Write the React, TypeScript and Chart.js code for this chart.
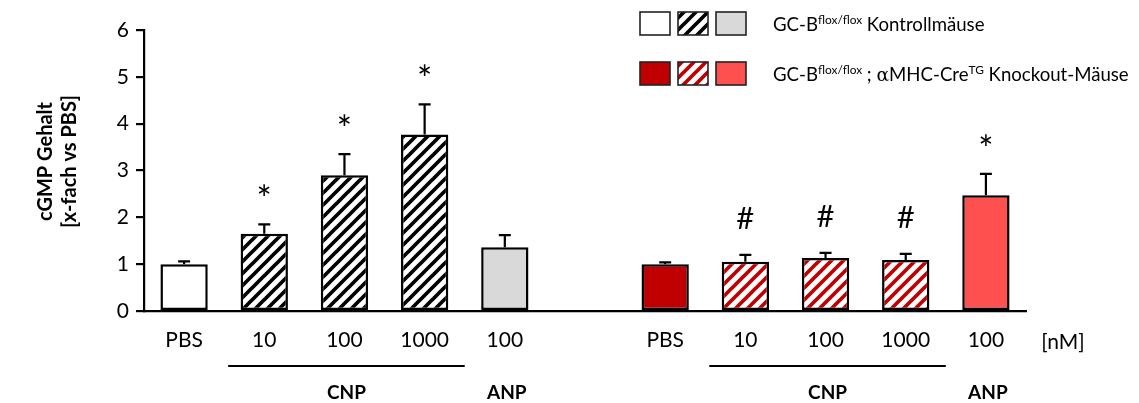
import React, { useEffect, useRef } from 'react';
import { Chart, registerables } from 'chart.js';

Chart.register(...registerables);

// ---------- data ----------
const categories = ['PBS', '10', '100', '1000', '100', '', 'PBS', '10', '100', '1000', '100'];
const controlMeans = [1.0, 1.65, 2.9, 3.77, 1.36];
const controlSem = [0.06, 0.2, 0.45, 0.64, 0.26];
const knockoutMeans = [1.0, 1.05, 1.13, 1.09, 2.47];
const knockoutSem = [0.04, 0.15, 0.11, 0.13, 0.46];
const controlMarks = ['', '*', '*', '*', ''];
const knockoutMarks = ['', '#', '#', '#', '*'];
const controlFills = ['white', 'hatchBlack', 'hatchBlack', 'hatchBlack', 'grey'];
const knockoutFills = ['darkRed', 'hatchRed', 'hatchRed', 'hatchRed', 'lightRed'];
const groupLabels = ['CNP', 'ANP', 'CNP', 'ANP'];
const groupLabelIndex = [2, 4, 8, 10];
const groupLineStart = [1, 7];
const groupLineEnd = [3, 9];
const unitLabel = '[nM]';
const yTitle = ['cGMP Gehalt', '[x-fach vs PBS]'];
const yMin = 0;
const yMax = 6;
const legendRow1: [string, string][] = [['GC-B', ''], ['flox/flox', 'sup'], [' Kontrollmäuse', '']];
const legendRow2: [string, string][] = [
  ['GC-B', ''], ['flox/flox', 'sup'], [' ; ', ''], ['α', 'greek'], ['MHC-Cre', ''], ['TG', 'sup'], [' Knockout-Mäuse', ''],
];
const legendFills = [controlFills[0], controlFills[1], controlFills[4], knockoutFills[0], knockoutFills[1], knockoutFills[4]];

const FONT = 'Lato, "Open Sans", sans-serif';

function makeHatch(color: string): CanvasPattern | string {
  const s = 12;
  const c = document.createElement('canvas');
  c.width = s;
  c.height = s;
  const g = c.getContext('2d');
  if (!g) return color;
  g.fillStyle = '#ffffff';
  g.fillRect(0, 0, s, s);
  g.strokeStyle = color;
  g.lineWidth = 3.7;
  g.beginPath();
  for (let k = -1; k <= 1; k++) {
    g.moveTo(k * s - 3, s + 3);
    g.lineTo(k * s + s + 3, -3);
  }
  g.stroke();
  const p = g.createPattern(c, 'repeat');
  return p || color;
}

export default function App() {
  const ref = useRef<HTMLCanvasElement>(null);

  useEffect(() => {
    const canvas = ref.current;
    if (!canvas) return;

    const fillMap: Record<string, any> = {
      white: '#ffffff',
      grey: '#d9d9d9',
      darkRed: '#c00000',
      lightRed: '#ff5050',
      hatchBlack: makeHatch('#000000'),
      hatchRed: makeHatch('#c00000'),
    };

    const means: (number | null)[] = [...controlMeans, null, ...knockoutMeans];
    const sems: (number | null)[] = [...controlSem, null, ...knockoutSem];
    const marks = [...controlMarks, '', ...knockoutMarks];
    const fills = [...controlFills, 'white', ...knockoutFills].map((k) => fillMap[k]);

    const setRowFont = (ctx: CanvasRenderingContext2D, kind: string, size: number) => {
      if (kind === 'sup') ctx.font = `${(size * 0.64).toFixed(2)}px ${FONT}`;
      else if (kind === 'greek') ctx.font = `${size.toFixed(2)}px "DejaVu Serif", serif`;
      else ctx.font = `${size.toFixed(2)}px ${FONT}`;
    };
    const rowWidth = (ctx: CanvasRenderingContext2D, row: [string, string][], size: number) => {
      let w = 0;
      for (const [t, kind] of row) {
        setRowFont(ctx, kind, size);
        w += ctx.measureText(t).width;
      }
      return w;
    };

    const overlay = {
      id: 'overlay',
      afterDatasetsDraw(chart: any) {
        const ctx: CanvasRenderingContext2D = chart.ctx;
        const y = chart.scales.y;
        const meta = chart.getDatasetMeta(0);
        ctx.save();
        meta.data.forEach((bar: any, i: number) => {
          const m = means[i];
          const s = sems[i];
          if (m == null || s == null) return;
          const top = y.getPixelForValue(m + s);
          const base = y.getPixelForValue(m);
          const cx = bar.x;
          ctx.strokeStyle = '#000';
          ctx.lineWidth = 2.2;
          ctx.beginPath();
          ctx.moveTo(cx, base);
          ctx.lineTo(cx, top);
          ctx.moveTo(cx - 6, top);
          ctx.lineTo(cx + 6, top);
          ctx.stroke();
          const mk = marks[i];
          if (mk) {
            const star = mk === '*';
            ctx.font = star ? `36px ${FONT}` : `31px ${FONT}`;
            ctx.fillStyle = '#000';
            ctx.textAlign = 'center';
            ctx.textBaseline = 'alphabetic';
            const mt = ctx.measureText(mk);
            const target = top - (star ? 34 : 37);
            const by = target + (mt.actualBoundingBoxAscent - mt.actualBoundingBoxDescent) / 2;
            ctx.fillText(mk, cx, by);
          }
        });
        ctx.restore();
      },
      afterDraw(chart: any) {
        const ctx: CanvasRenderingContext2D = chart.ctx;
        const x = chart.scales.x;
        const area = chart.chartArea;
        const slot = x.getPixelForValue(1) - x.getPixelForValue(0);
        ctx.save();
        // unit label
        ctx.fillStyle = '#000';
        ctx.font = `21px ${FONT}`;
        ctx.textAlign = 'center';
        ctx.textBaseline = 'middle';
        ctx.fillText(unitLabel, area.right + 37, area.bottom + 31);
        // group lines
        ctx.strokeStyle = '#000';
        ctx.lineWidth = 2.2;
        for (let g = 0; g < groupLineStart.length; g++) {
          const x0 = x.getPixelForValue(groupLineStart[g]) - 0.45 * slot;
          const x1 = x.getPixelForValue(groupLineEnd[g]) + 0.5 * slot;
          ctx.beginPath();
          ctx.moveTo(x0, area.bottom + 55);
          ctx.lineTo(x1, area.bottom + 55);
          ctx.stroke();
        }
        // group labels
        ctx.font = `bold 19px ${FONT}`;
        groupLabels.forEach((t, i) => {
          ctx.fillText(t, x.getPixelForValue(groupLabelIndex[i]) + 2, area.bottom + 82);
        });
        // y title
        ctx.save();
        ctx.translate(58, (area.top + area.bottom) / 2 - 9);
        ctx.rotate(-Math.PI / 2);
        ctx.font = `bold 20px ${FONT}`;
        ctx.fillText(yTitle[0], 0, -12);
        ctx.fillText(yTitle[1], 0, 12);
        ctx.restore();
        // legend
        const swX = [640, 678, 716];
        const rowTop = [12, 62];
        const rows = [legendRow1, legendRow2];
        const size = 18 * (356 / rowWidth(ctx, legendRow2, 18));
        for (let r = 0; r < 2; r++) {
          for (let k = 0; k < 3; k++) {
            ctx.fillStyle = fillMap[legendFills[r * 3 + k]];
            ctx.fillRect(swX[k], rowTop[r], 30, 23);
            ctx.strokeStyle = '#222';
            ctx.lineWidth = 1.6;
            ctx.strokeRect(swX[k], rowTop[r], 30, 23);
          }
          let tx = 773;
          const base = rowTop[r] + 19;
          ctx.fillStyle = '#000';
          ctx.textAlign = 'left';
          ctx.textBaseline = 'alphabetic';
          for (const [t, kind] of rows[r]) {
            setRowFont(ctx, kind, size);
            ctx.fillText(t, tx, kind === 'sup' ? base - size * 0.4 : base);
            tx += ctx.measureText(t).width;
          }
        }
        ctx.restore();
      },
    };

    const chart = new Chart(canvas, {
      type: 'bar',
      data: {
        labels: categories,
        datasets: [
          {
            data: means,
            backgroundColor: fills,
            borderColor: '#000',
            borderWidth: 2.5,
            borderSkipped: false,
            barPercentage: 0.59,
            categoryPercentage: 1,
          },
        ],
      },
      options: {
        responsive: false,
        animation: false,
        layout: { padding: { top: 30, right: 113, left: 0, bottom: 0 } },
        plugins: { legend: { display: false }, tooltip: { enabled: false } },
        scales: {
          x: {
            grid: { display: true, drawOnChartArea: false, drawTicks: false },
            border: { display: true, color: '#000', width: 2.2 },
            ticks: { color: '#000', font: { family: FONT, size: 21 }, padding: 17, maxRotation: 0, autoSkip: false },
            afterFit: (s: any) => { s.height = 92; },
          },
          y: {
            min: yMin,
            max: yMax,
            grid: { display: true, drawOnChartArea: false, drawTicks: true, tickLength: 8, color: '#000', lineWidth: 2.2 },
            border: { display: true, color: '#000', width: 2.2 },
            ticks: { stepSize: 1, color: '#000', font: { family: FONT, size: 21 }, padding: 7 },
            afterFit: (s: any) => { s.width = 144; },
          },
        },
      },
      plugins: [overlay],
    });

    return () => chart.destroy();
  }, []);

  return (
    <div style={{ position: 'absolute', left: 0, top: 0, width: 1139, height: 403, background: '#fff' }}>
      <canvas ref={ref} width={1139} height={403} style={{ display: 'block', width: 1139, height: 403 }} />
    </div>
  );
}
